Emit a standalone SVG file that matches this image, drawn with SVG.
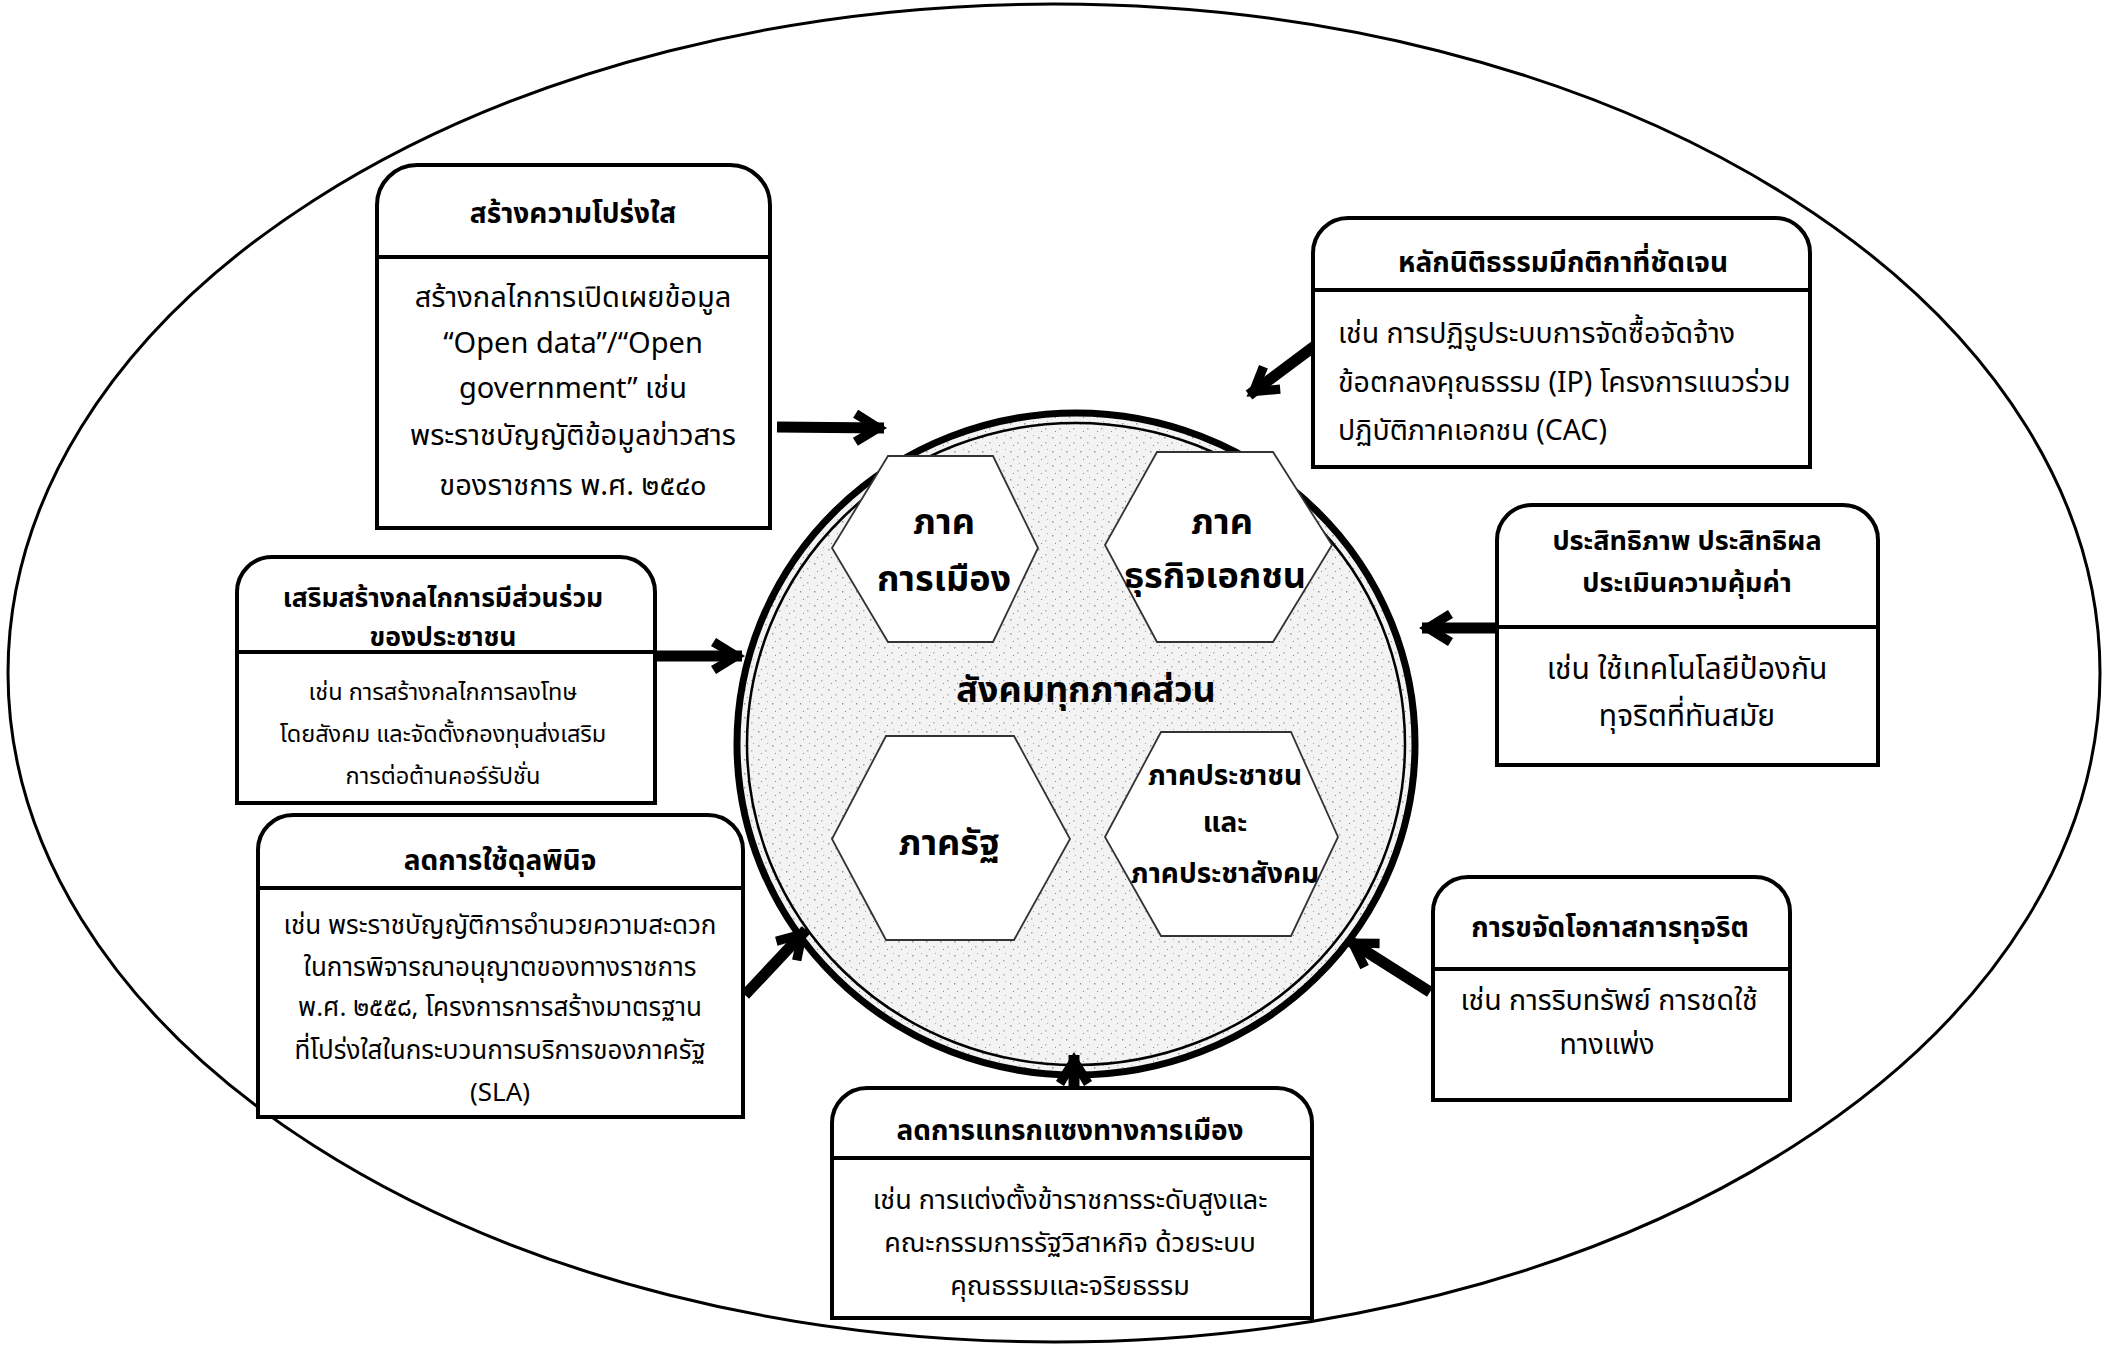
<svg xmlns="http://www.w3.org/2000/svg" width="2105" height="1347" viewBox="0 0 2105 1347">
<defs>
<style>
.box{fill:#fff;stroke:#000;stroke-width:4}
.div{stroke:#000;stroke-width:4}
.t{font-family:"Noto Sans Thai","Leelawadee UI","Tahoma","Liberation Sans",sans-serif;font-weight:bold;font-size:28px;fill:#000;text-anchor:middle}
.b{font-family:"Noto Sans Thai","Leelawadee UI","Tahoma","Liberation Sans",sans-serif;font-size:26px;fill:#000;text-anchor:middle}
.bl{text-anchor:start}
.hex{fill:#fff;stroke:#333;stroke-width:1.8}
.h{font-family:"Noto Sans Thai","Leelawadee UI","Tahoma","Liberation Sans",sans-serif;font-weight:bold;font-size:36px;fill:#000;text-anchor:middle}
.hs{font-size:28px}
.arr{stroke:#000;stroke-width:11;fill:none;marker-end:url(#ah)}
</style>
<marker id="ah" markerUnits="userSpaceOnUse" markerWidth="44" markerHeight="44" viewBox="-34 -22 44 44" refX="0" refY="0" orient="auto">
<path d="M3,0 L-26,-18 L-31,-10 L-14,0 L-31,10 L-26,18 Z" fill="#000"/>
</marker>
<pattern id="speck" width="14" height="14" patternUnits="userSpaceOnUse">
<rect width="14" height="14" fill="#f3f3f3"/>
<rect x="2" y="3" width="1.5" height="1.5" fill="#9a9a9a"/>
<rect x="9" y="8" width="1.5" height="1.5" fill="#b0b0b0"/>
<rect x="5" y="11" width="1" height="1" fill="#888"/>
<rect x="11" y="1" width="1" height="1" fill="#aaa"/>
</pattern>
</defs>
<rect width="2105" height="1347" fill="#fff"/>
<ellipse id="outer" cx="1054" cy="673" rx="1046" ry="669" fill="none" stroke="#000" stroke-width="3"/>

<g id="center">
<ellipse cx="1076" cy="744" rx="339" ry="331" fill="url(#speck)" stroke="#000" stroke-width="7"/>
<ellipse cx="1076" cy="744" rx="329" ry="321" fill="none" stroke="#000" stroke-width="2.5"/>
<text class="h" x="1086" y="702">สังคมทุกภาคส่วน</text>
</g>

<g id="hex-politics">
<polygon class="hex" points="832,548 888,456 993,456 1038,548 993,642 888,642"/>
<text class="h" x="944" y="534">ภาค</text>
<text class="h" x="944" y="591">การเมือง</text>
</g>
<g id="hex-business">
<polygon class="hex" points="1105,545 1157,452 1273,452 1332,545 1273,642 1157,642"/>
<text class="h" x="1222" y="534">ภาค</text>
<text class="h" x="1215" y="588">ธุรกิจเอกชน</text>
</g>
<g id="hex-state">
<polygon class="hex" points="832,839 886,736 1014,736 1070,839 1014,940 886,940"/>
<text class="h" x="949" y="855">ภาครัฐ</text>
</g>
<g id="hex-people">
<polygon class="hex" points="1105,837 1161,732 1291,732 1338,837 1291,936 1161,936"/>
<text class="h hs" x="1225" y="785">ภาคประชาชน</text>
<text class="h hs" x="1225" y="832">และ</text>
<text class="h hs" x="1225" y="883">ภาคประชาสังคม</text>
</g>

<g id="connectors">
<line class="arr" x1="777" y1="427" x2="884" y2="428"/>
<line class="arr" x1="655" y1="656" x2="742" y2="656"/>
<line class="arr" x1="1320" y1="342" x2="1249" y2="395"/>
<line class="arr" x1="1500" y1="628" x2="1422" y2="628"/>
<line class="arr" x1="745" y1="995" x2="806" y2="930"/>
<line class="arr" x1="1430" y1="992" x2="1348" y2="940"/>
<line class="arr" x1="1074" y1="1090" x2="1074" y2="1055"/>
</g>

<g id="box-transparency">
<path class="box" d="M377,528 L377,205 A40,40 0 0 1 417,165 L730,165 A40,40 0 0 1 770,205 L770,528 Z"/>
<line class="div" x1="377" y1="257" x2="770" y2="257"/>
<text class="t" x="573" y="223">สร้างความโปร่งใส</text>
<text class="b" x="573" y="307" style="font-size:29px">สร้างกลไกการเปิดเผยข้อมูล</text>
<text class="b" x="573" y="353" style="font-size:29px">“Open data”/“Open</text>
<text class="b" x="573" y="398" style="font-size:29px">government” เช่น</text>
<text class="b" x="573" y="445" style="font-size:29px">พระราชบัญญัติข้อมูลข่าวสาร</text>
<text class="b" x="573" y="495" style="font-size:29px">ของราชการ พ.ศ. ๒๕๔๐</text>
</g>

<g id="box-rule-of-law">
<path class="box" d="M1313,467 L1313,253 A35,35 0 0 1 1348,218 L1775,218 A35,35 0 0 1 1810,253 L1810,467 Z"/>
<line class="div" x1="1313" y1="290" x2="1810" y2="290"/>
<text class="t" x="1563" y="272">หลักนิติธรรมมีกติกาที่ชัดเจน</text>
<text class="b bl" x="1338" y="343" style="font-size:28.5px">เช่น การปฏิรูประบบการจัดซื้อจัดจ้าง</text>
<text class="b bl" x="1338" y="392" style="font-size:28.5px">ข้อตกลงคุณธรรม (IP) โครงการแนวร่วม</text>
<text class="b bl" x="1338" y="440" style="font-size:28.5px">ปฏิบัติภาคเอกชน (CAC)</text>
</g>

<g id="box-participation">
<path class="box" d="M237,803 L237,592 A35,35 0 0 1 272,557 L620,557 A35,35 0 0 1 655,592 L655,803 Z"/>
<line class="div" x1="237" y1="652" x2="655" y2="652"/>
<text class="t" x="443" y="607" style="font-size:26.5px">เสริมสร้างกลไกการมีส่วนร่วม</text>
<text class="t" x="443" y="646" style="font-size:26.5px">ของประชาชน</text>
<text class="b" x="443" y="700" style="font-size:23.5px">เช่น การสร้างกลไกการลงโทษ</text>
<text class="b" x="443" y="742" style="font-size:23.5px">โดยสังคม และจัดตั้งกองทุนส่งเสริม</text>
<text class="b" x="443" y="784" style="font-size:23.5px">การต่อต้านคอร์รัปชั่น</text>
</g>

<g id="box-discretion">
<path class="box" d="M258,1117 L258,850 A35,35 0 0 1 293,815 L708,815 A35,35 0 0 1 743,850 L743,1117 Z"/>
<line class="div" x1="258" y1="888" x2="743" y2="888"/>
<text class="t" x="500" y="870">ลดการใช้ดุลพินิจ</text>
<text class="b" x="500" y="934">เช่น พระราชบัญญัติการอำนวยความสะดวก</text>
<text class="b" x="500" y="976">ในการพิจารณาอนุญาตของทางราชการ</text>
<text class="b" x="500" y="1016">พ.ศ. ๒๕๕๘, โครงการการสร้างมาตรฐาน</text>
<text class="b" x="500" y="1059">ที่โปร่งใสในกระบวนการบริการของภาครัฐ</text>
<text class="b" x="500" y="1101">(SLA)</text>
</g>

<g id="box-efficiency">
<path class="box" d="M1497,765 L1497,540 A35,35 0 0 1 1532,505 L1843,505 A35,35 0 0 1 1878,540 L1878,765 Z"/>
<line class="div" x1="1497" y1="627" x2="1878" y2="627"/>
<text class="t" x="1687" y="550" style="font-size:27px">ประสิทธิภาพ ประสิทธิผล</text>
<text class="t" x="1687" y="592" style="font-size:27px">ประเมินความคุ้มค่า</text>
<text class="b" x="1687" y="679" style="font-size:30px">เช่น ใช้เทคโนโลยีป้องกัน</text>
<text class="b" x="1687" y="726" style="font-size:30px">ทุจริตที่ทันสมัย</text>
</g>

<g id="box-eliminate">
<path class="box" d="M1433,1100 L1433,912 A35,35 0 0 1 1468,877 L1755,877 A35,35 0 0 1 1790,912 L1790,1100 Z"/>
<line class="div" x1="1433" y1="969" x2="1790" y2="969"/>
<text class="t" x="1610" y="937">การขจัดโอกาสการทุจริต</text>
<text class="b" x="1609" y="1010" style="font-size:28.5px">เช่น การริบทรัพย์ การชดใช้</text>
<text class="b" x="1607" y="1054" style="font-size:28.5px">ทางแพ่ง</text>
</g>

<g id="box-political">
<path class="box" d="M832,1318 L832,1123 A35,35 0 0 1 867,1088 L1277,1088 A35,35 0 0 1 1312,1123 L1312,1318 Z"/>
<line class="div" x1="832" y1="1158" x2="1312" y2="1158"/>
<text class="t" x="1070" y="1140">ลดการแทรกแซงทางการเมือง</text>
<text class="b" x="1070" y="1209" style="font-size:27px">เช่น การแต่งตั้งข้าราชการระดับสูงและ</text>
<text class="b" x="1070" y="1252" style="font-size:27px">คณะกรรมการรัฐวิสาหกิจ ด้วยระบบ</text>
<text class="b" x="1070" y="1295" style="font-size:27px">คุณธรรมและจริยธรรม</text>
</g>
</svg>
